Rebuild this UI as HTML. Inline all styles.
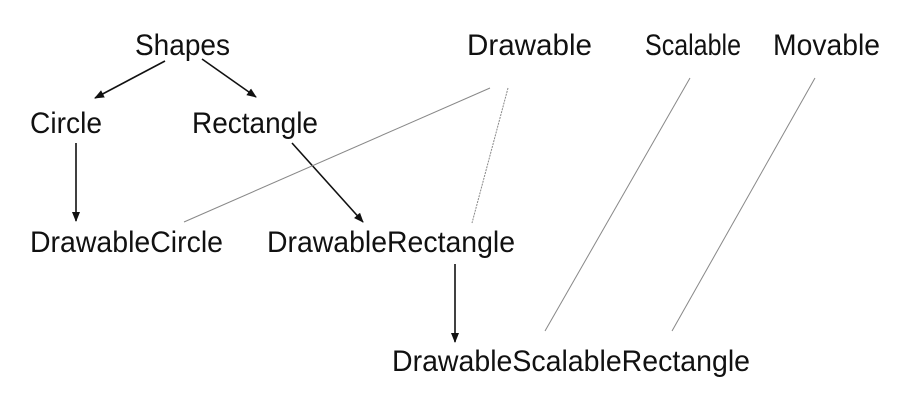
<!DOCTYPE html>
<html><head><style>html,body{margin:0;padding:0;background:#fff}</style></head><body>
<svg width="915" height="404" xmlns="http://www.w3.org/2000/svg" style="display:block">
<defs><marker id="a" markerWidth="10" markerHeight="10" refX="9" refY="5" orient="auto" markerUnits="userSpaceOnUse"><path d="M0,1 L10,5 L0,9 z" fill="#111"/></marker></defs>
<g font-family="Liberation Sans, sans-serif" font-size="30" fill="#111">
<text x="135" y="55" textLength="95" lengthAdjust="spacingAndGlyphs">Shapes</text>
<text x="467" y="55" textLength="125" lengthAdjust="spacingAndGlyphs">Drawable</text>
<text x="645" y="55" textLength="96" lengthAdjust="spacingAndGlyphs">Scalable</text>
<text x="773" y="55" textLength="107" lengthAdjust="spacingAndGlyphs">Movable</text>
<text x="30" y="133" textLength="72" lengthAdjust="spacingAndGlyphs">Circle</text>
<text x="192" y="133" textLength="126" lengthAdjust="spacingAndGlyphs">Rectangle</text>
<text x="30" y="252" textLength="193" lengthAdjust="spacingAndGlyphs">DrawableCircle</text>
<text x="267" y="252" textLength="248" lengthAdjust="spacingAndGlyphs">DrawableRectangle</text>
<text x="392" y="371" textLength="358" lengthAdjust="spacingAndGlyphs">DrawableScalableRectangle</text>
</g>
<g stroke="#111" stroke-width="1.6" fill="none">
<line x1="165" y1="61" x2="95" y2="98" marker-end="url(#a)"/>
<line x1="202" y1="59" x2="256" y2="97" marker-end="url(#a)"/>
<line x1="76" y1="143" x2="76" y2="221" marker-end="url(#a)"/>
<line x1="292" y1="143" x2="363" y2="222" marker-end="url(#a)"/>
<line x1="455" y1="264" x2="455" y2="342" marker-end="url(#a)"/>
</g>
<g stroke="#888" stroke-width="1" fill="none">
<line x1="490" y1="88" x2="184" y2="222"/>
<line x1="508" y1="88" x2="472" y2="223" stroke-dasharray="2,1"/>
<line x1="690" y1="78" x2="545" y2="331"/>
<line x1="815" y1="78" x2="672" y2="331"/>
</g>
</svg>
</body></html>
